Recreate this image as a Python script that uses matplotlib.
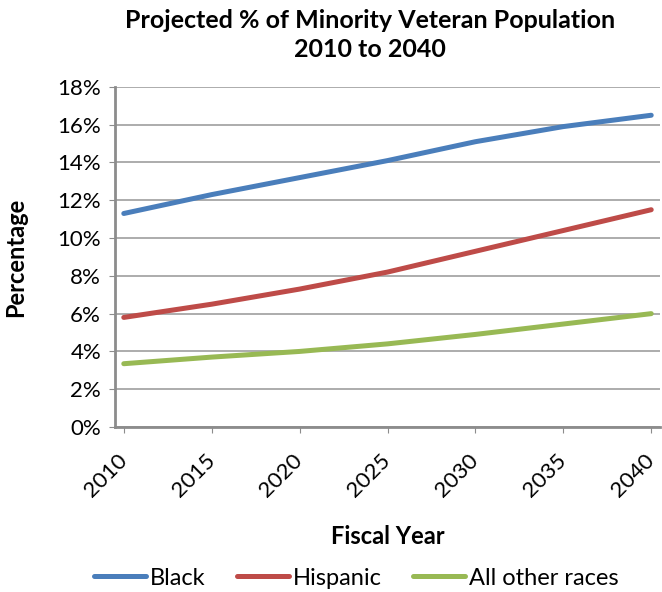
import matplotlib
matplotlib.use("Agg")
import matplotlib.pyplot as plt
from matplotlib.ticker import FuncFormatter

years = [2010, 2015, 2020, 2025, 2030, 2035, 2040]
black = [11.3, 12.3, 13.2, 14.1, 15.1, 15.9, 16.5]
hispanic = [5.8, 6.5, 7.3, 8.2, 9.3, 10.4, 11.5]
other = [3.35, 3.7, 4.0, 4.4, 4.9, 5.45, 6.0]

BLUE = "#4A7EBB"
RED = "#BE4B48"
GREEN = "#98B954"
AXIS = "#8C8C8C"

plt.rcParams.update({
    "font.family": ["Lato", "DejaVu Sans"],
    "font.size": 16,
})

fig = plt.figure(figsize=(6.62, 5.92), dpi=100)
ax = fig.add_axes([0.1737, 0.2787, 0.8233, 0.5745])

ax.plot(years, black, color=BLUE, lw=3.6, label="Black", solid_capstyle="round")
ax.plot(years, hispanic, color=RED, lw=3.6, label="Hispanic", solid_capstyle="round")
ax.plot(years, other, color=GREEN, lw=3.6, label="All other races", solid_capstyle="round")

ax.set_xlim(2009.5, 2040.5)
ax.set_ylim(0, 18)
ax.set_yticks(range(0, 19, 2))
ax.yaxis.set_major_formatter(FuncFormatter(lambda v, p: f"{int(v)}%"))
ax.set_xticks(years)
ax.set_xticklabels([str(y) for y in years], rotation=45, ha="right", va="center",
                   rotation_mode="anchor")
ax.tick_params(axis="both", length=4, color=AXIS, labelsize=16, colors="black")
ax.tick_params(axis="x", pad=18)
ax.tick_params(axis="y", pad=6)

ax.grid(axis="y", color="#A6A6A6", lw=1.3)
ax.set_axisbelow(True)
for s in ["top", "right"]:
    ax.spines[s].set_visible(False)
for s in ["left", "bottom"]:
    ax.spines[s].set_color(AXIS)
    ax.spines[s].set_linewidth(2)

ax.set_ylabel("Percentage", fontweight="bold", fontsize=17)
ax.yaxis.set_label_coords(-0.162, 0.5)
ax.set_xlabel("Fiscal Year", fontweight="bold", fontsize=17)
ax.xaxis.set_label_coords(0.5, -0.288)
fig.text(0.559, 0.941, "Projected % of Minority Veteran Population\n2010 to 2040",
         ha="center", va="center", fontweight="bold", fontsize=18, linespacing=1.36)

fig.legend(loc="center", bbox_to_anchor=(0.538, 0.0236), ncol=3, frameon=False,
           fontsize=17, handlelength=2.2, handletextpad=0.15, columnspacing=1.35)

fig.savefig("out.png", dpi=100, facecolor="white")
